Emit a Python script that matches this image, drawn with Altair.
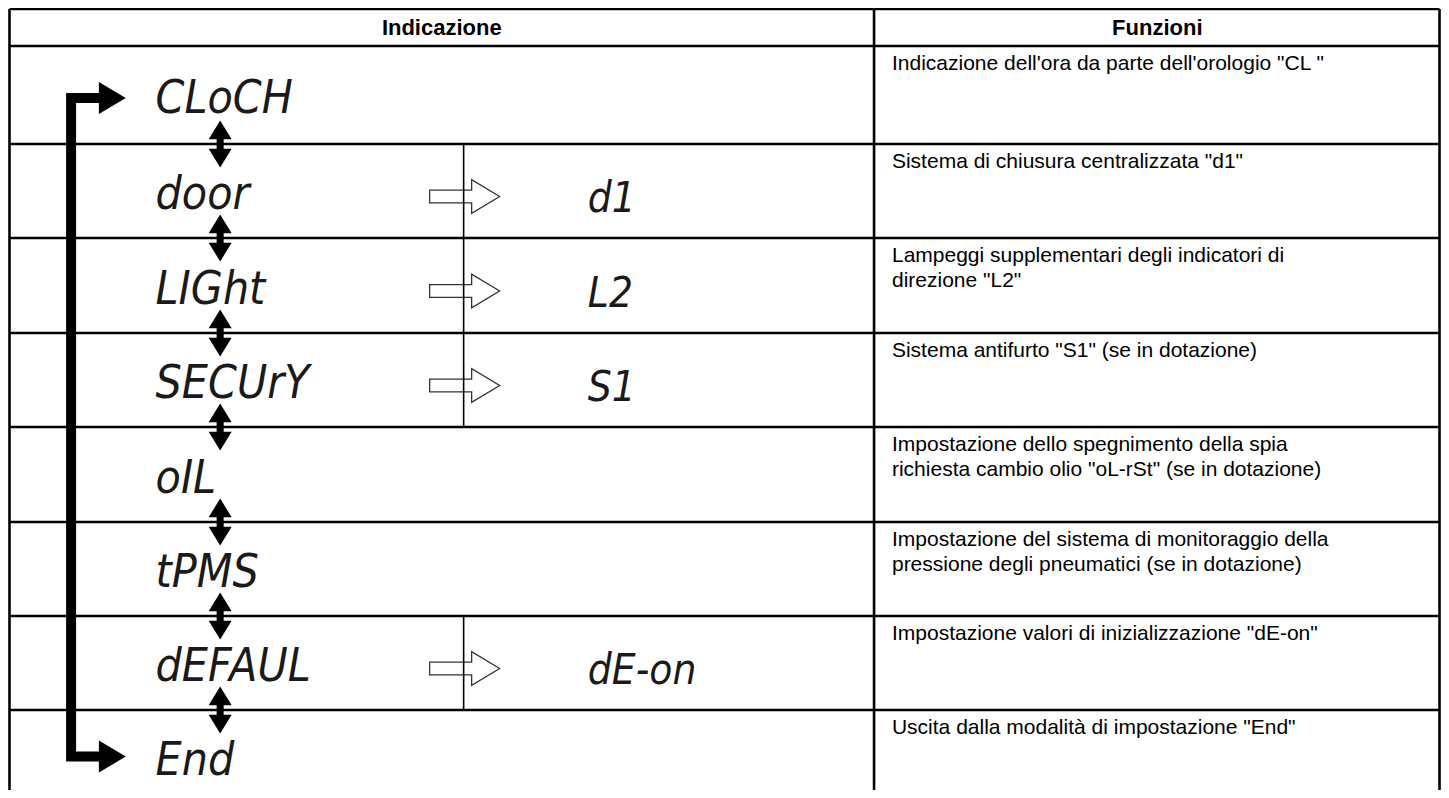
import altair as alt
import pandas as pd

# ---------------- content ----------------
header_labels = ["Indicazione", "Funzioni"]
menu_codes = ["CLoCH", "door", "LIGht", "SECUrY", "oIL", "tPMS", "dEFAUL", "End"]
sub_codes = ["", "d1", "L2", "S1", "", "", "dE-on", ""]
functions = [
    ["Indicazione dell'ora da parte dell'orologio \"CL \""],
    ["Sistema di chiusura centralizzata \"d1\""],
    ["Lampeggi supplementari degli indicatori di", "direzione \"L2\""],
    ["Sistema antifurto \"S1\" (se in dotazione)"],
    ["Impostazione dello spegnimento della spia",
     "richiesta cambio olio \"oL-rSt\" (se in dotazione)"],
    ["Impostazione del sistema di monitoraggio della",
     "pressione degli pneumatici (se in dotazione)"],
    ["Impostazione valori di inizializzazione \"dE-on\""],
    ["Uscita dalla modalità di impostazione \"End\""],
]

# ---------------- layout (reference pixel grid) ----------------
table_left, table_right, table_top, table_bottom = 5, 1444, 5, 800
row_lines = [42, 140, 234, 329, 423, 518, 612, 706, 800]
col_split = 875
sub_split = 462
header_x = [440, 1160]
header_base = 31
code_x = 152
sub_x = 587
func_x = 893
dbl_x = 217
out_arrow_x = 463
loop_x = 67
loop_end_x = 96
loop_head_x = 108.5

W, H = 1433, 782
xs = alt.Scale(domain=[3.5, 1445.5], nice=False, zero=False)
ys = alt.Scale(domain=[4, 786], nice=False, zero=False, reverse=True)

def X(field):
    return alt.X(field, type="quantitative", scale=xs, axis=None)

def Y(field):
    return alt.Y(field, type="quantitative", scale=ys, axis=None)

tops = row_lines[:-1]
bots = row_lines[1:]
centers = [(a + b) / 2 for a, b in zip(tops, bots)]

# grid lines
hl = pd.DataFrame({"y": [table_top] + row_lines[:-1]})
hl["x"] = table_left
hl["x2"] = table_right
hlines = alt.Chart(hl).mark_rule(color="black", strokeWidth=2.6).encode(
    x=X("x"), x2="x2", y=Y("y"))

vl = pd.DataFrame({"x": [table_left, col_split, table_right],
                   "y": [table_top] * 3, "y2": [table_bottom] * 3})
vlines = alt.Chart(vl).mark_rule(color="black", strokeWidth=2.6).encode(
    x=X("x"), y=Y("y"), y2="y2")

has_sub = [i for i, s in enumerate(sub_codes) if s]
sv = pd.DataFrame({"x": [sub_split] * len(has_sub),
                   "y": [tops[i] for i in has_sub],
                   "y2": [bots[i] for i in has_sub]})
sublines = alt.Chart(sv).mark_rule(color="black", strokeWidth=1.6).encode(
    x=X("x"), y=Y("y"), y2="y2")

# header
hd = pd.DataFrame({"t": header_labels, "x": header_x, "y": [header_base] * 2})
header = alt.Chart(hd).mark_text(font="Liberation Sans", fontWeight="bold",
                                 fontSize=22, align="center",
                                 baseline="alphabetic", color="black").encode(
    x=X("x"), y=Y("y"), text="t:N")

seg_font = "'Liberation Sans Narrow', 'DejaVu Sans Condensed', 'Liberation Sans', sans-serif"

cd = pd.DataFrame({"t": menu_codes, "x": [code_x] * 8,
                   "y": [c + 18 for c in centers]})
codes = alt.Chart(cd).mark_text(font=seg_font, fontStyle="italic", fontSize=46,
                                align="left", baseline="alphabetic",
                                color="#1a1a1a").encode(
    x=X("x"), y=Y("y"), text="t:N")

sd = pd.DataFrame({"t": [sub_codes[i] for i in has_sub],
                   "x": [sub_x] * len(has_sub),
                   "y": [centers[i] + 21 for i in has_sub]})
subs = alt.Chart(sd).mark_text(font=seg_font, fontStyle="italic", fontSize=42,
                               align="left", baseline="alphabetic",
                               color="#1a1a1a").encode(
    x=X("x"), y=Y("y"), text="t:N")

# function descriptions
recs = []
for i, lines in enumerate(functions):
    for j, line in enumerate(lines):
        recs.append({"t": line, "x": func_x, "y": tops[i] + 24 + 25 * j})
fd = pd.DataFrame(recs)
funcs = alt.Chart(fd).mark_text(font="Liberation Sans", fontSize=21,
                                align="left", baseline="alphabetic",
                                color="black").encode(
    x=X("x"), y=Y("y"), text="t:N")

# outline arrows
oa = pd.DataFrame({"x": [out_arrow_x] * len(has_sub),
                   "y": [centers[i] + 5.5 for i in has_sub]})
out_arrow_path = ("M-1,-0.18 L0.2,-0.18 L0.2,-0.48 L1,0 L0.2,0.48 "
                  "L0.2,0.18 L-1,0.18 Z")
out_arrows = alt.Chart(oa).mark_point(shape=out_arrow_path, size=4900,
                                      filled=True, fill="white",
                                      stroke="#333333", strokeWidth=1.3,
                                      opacity=1, fillOpacity=1).encode(
    x=X("x"), y=Y("y"))

# double arrows between menu items
da = pd.DataFrame({"x": [dbl_x] * 7, "y": row_lines[1:8]})
dbl_path = ("M0,-1 L0.49,-0.2 L0.15,-0.2 L0.15,0.2 L0.49,0.2 L0,1 "
            "L-0.49,0.2 L-0.15,0.2 L-0.15,-0.2 L-0.49,-0.2 Z")
dbl = alt.Chart(da).mark_point(shape=dbl_path, size=2209, filled=True,
                               color="black", opacity=1).encode(
    x=X("x"), y=Y("y"))

# loop connector
loop_top = centers[0] + 3
loop_bot = centers[-1] - 0.5
lp = pd.DataFrame({"x": [loop_end_x, loop_x, loop_x, loop_end_x],
                   "y": [loop_top, loop_top, loop_bot, loop_bot],
                   "o": [0, 1, 2, 3]})
loop = alt.Chart(lp).mark_line(color="black", strokeWidth=10,
                               strokeCap="butt", strokeJoin="miter").encode(
    x=X("x"), y=Y("y"), order="o:Q")

lh = pd.DataFrame({"x": [loop_head_x] * 2, "y": [loop_top, loop_bot]})
head_path = "M-0.84,-1 L0.84,0 L-0.84,1 Z"
heads = alt.Chart(lh).mark_point(shape=head_path, size=1024, filled=True,
                                 color="black", opacity=1).encode(
    x=X("x"), y=Y("y"))

chart = alt.layer(out_arrows, hlines, vlines, sublines, header, codes, subs,
                  funcs, loop, heads, dbl).properties(
    width=W, height=H,
    autosize=alt.AutoSizeParams(type="none"),
    padding=0,
    background="white",
).configure_view(stroke=None)

chart.save("out.html", embed_options={"renderer": "svg", "actions": False})
